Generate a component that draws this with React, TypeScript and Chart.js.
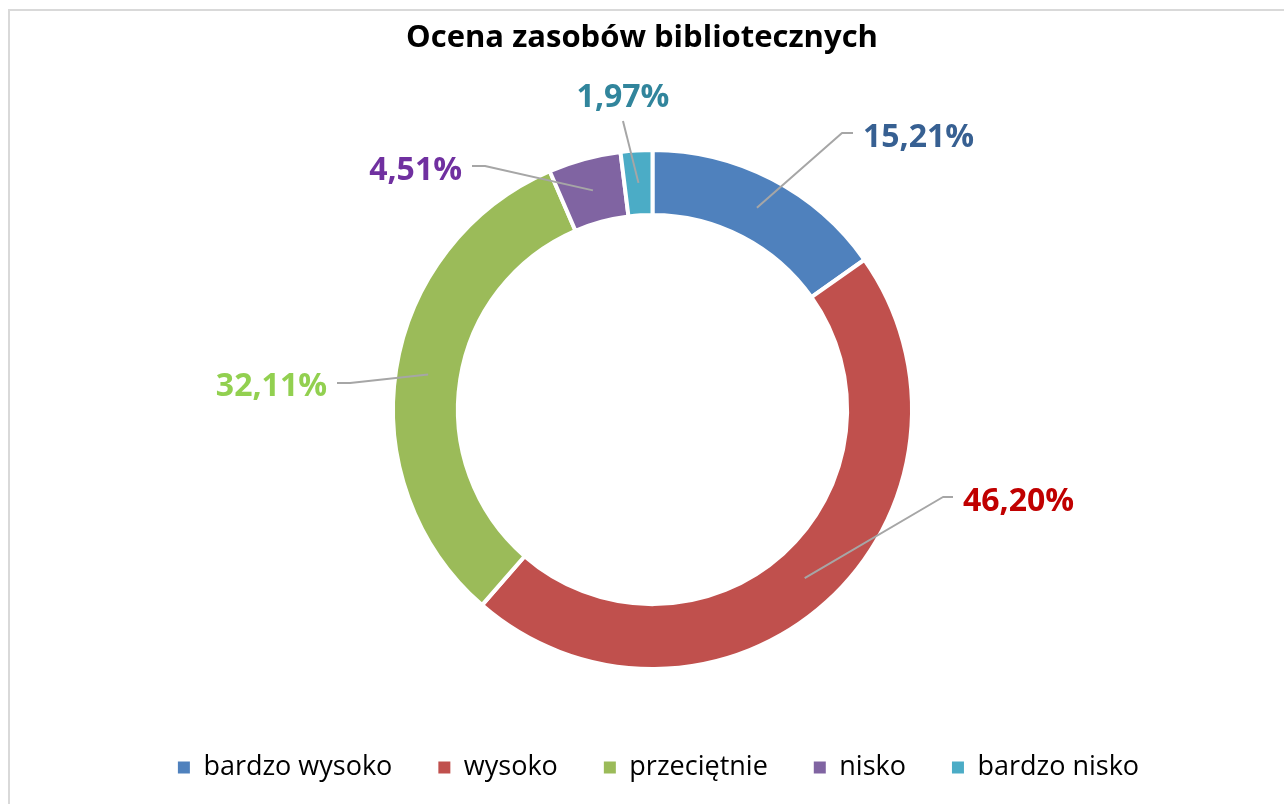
import React, { useEffect, useRef } from "react";
import { Chart, registerables } from "chart.js";

Chart.register(...registerables);

// ---- data ----
const titleText = "Ocena zasobów bibliotecznych";
const categories = ["bardzo wysoko", "wysoko", "przeciętnie", "nisko", "bardzo nisko"];
const values = [15.21, 46.2, 32.11, 4.51, 1.97];
const sliceColors = ["#4F81BD", "#C0504D", "#9BBB59", "#8064A2", "#4BACC6"];
const labelColors = ["#376092", "#C00000", "#92D050", "#7030A0", "#31859C"];

// ---- callout label placement (relative to doughnut centre) ----
const labelPlacement = [
  { ex: 189.5, ey: -276.5, tail: 11, side: "right", base: 14 },
  { ex: 290.5, ey: 87.5, tail: 10, side: "right", base: 14.4 },
  { ex: -302.5, ey: -26.5, tail: -13, side: "left", base: 12.7 },
  { ex: -167.5, ey: -243.5, tail: -13, side: "left", base: 14 },
  { ex: -29.5, ey: -288.5, tail: 0, side: "top", base: -13.7 },
];

const FONT = "'Open Sans', 'DejaVu Sans', sans-serif";

const framePlugin = {
  id: "frame",
  beforeDraw(chart: any) {
    const ctx = chart.ctx;
    ctx.save();
    ctx.strokeStyle = "#D9D9D9";
    ctx.lineWidth = 2;
    ctx.beginPath();
    ctx.moveTo(9, chart.height + 2);
    ctx.lineTo(9, 10);
    ctx.lineTo(chart.width + 2, 10);
    ctx.stroke();
    ctx.restore();
  },
  afterLayout(chart: any) {
    if (chart.titleBlock) {
      chart.titleBlock.left -= 21;
    }
    if (chart.legend) {
      chart.legend.left += 6;
      chart.legend.right += 6;
    }
  },
};

const calloutPlugin = {
  id: "callouts",
  afterDatasetsDraw(chart: any) {
    const meta = chart.getDatasetMeta(0);
    const ctx = chart.ctx;
    ctx.save();
    meta.data.forEach((arc: any, i: number) => {
      const { x, y, startAngle, endAngle, innerRadius, outerRadius } = arc.getProps(
        ["x", "y", "startAngle", "endAngle", "innerRadius", "outerRadius"],
        true
      );
      const mid = (startAngle + endAngle) / 2;
      const r = (innerRadius + outerRadius) / 2;
      const ax = x + Math.cos(mid) * r;
      const ay = y + Math.sin(mid) * r;
      const p = labelPlacement[i];
      const ex = x + p.ex;
      const ey = y + p.ey;
      const tx = ex + p.tail;
      ctx.strokeStyle = "#A6A6A6";
      ctx.lineWidth = 2;
      ctx.lineJoin = "round";
      ctx.beginPath();
      ctx.moveTo(ax, ay);
      ctx.lineTo(ex, ey);
      if (p.tail) ctx.lineTo(tx, ey);
      ctx.stroke();

      const text = values[i].toFixed(2).replace(".", ",") + "%";
      ctx.font = `bold 32px ${FONT}`;
      ctx.fillStyle = labelColors[i];
      ctx.textBaseline = "alphabetic";
      if (p.side === "right") {
        ctx.textAlign = "left";
        ctx.fillText(text, tx + 10, ey + p.base);
      } else if (p.side === "left") {
        ctx.textAlign = "right";
        ctx.fillText(text, tx - 10, ey + p.base);
      } else {
        ctx.textAlign = "center";
        ctx.fillText(text, ex, ey + p.base);
      }
    });
    ctx.restore();
  },
};

export default function App() {
  const canvasRef = useRef<HTMLCanvasElement | null>(null);

  useEffect(() => {
    const canvas = canvasRef.current;
    if (!canvas) return;
    const chart = new Chart(canvas, {
      type: "doughnut",
      data: {
        labels: categories,
        datasets: [
          {
            data: values,
            backgroundColor: sliceColors,
            borderColor: "#FFFFFF",
            borderWidth: 4,
            radius: 259.5,
            cutout: "75%",
          } as any,
        ],
      },
      options: {
        animation: false,
        responsive: false,
        events: [],
        layout: { padding: { left: 21, right: 0, top: 0, bottom: 13 } },
        plugins: {
          title: {
            display: true,
            text: titleText,
            color: "#000000",
            font: { family: FONT, size: 31, weight: "bold", lineHeight: 1.2 },
            padding: { top: 19.5, bottom: 54.3 },
          },
          legend: {
            display: true,
            position: "bottom",
            labels: {
              boxWidth: 12,
              boxHeight: 12,
              padding: 46,
              color: "#000000",
              font: { family: FONT, size: 27 },
              generateLabels: (c: any) =>
                (Chart as any).overrides.doughnut.plugins.legend.labels
                  .generateLabels(c)
                  .map((l: any) => ({ ...l, lineWidth: 0, strokeStyle: l.fillStyle })),
            },
          },
          tooltip: { enabled: false },
        },
      } as any,
      plugins: [framePlugin, calloutPlugin],
    });
    return () => chart.destroy();
  }, []);

  return (
    <div style={{ position: "fixed", left: 0, top: 0, width: 1284, height: 804, background: "#FFFFFF" }}>
      <canvas ref={canvasRef} width={1284} height={804} style={{ display: "block" }} />
    </div>
  );
}
